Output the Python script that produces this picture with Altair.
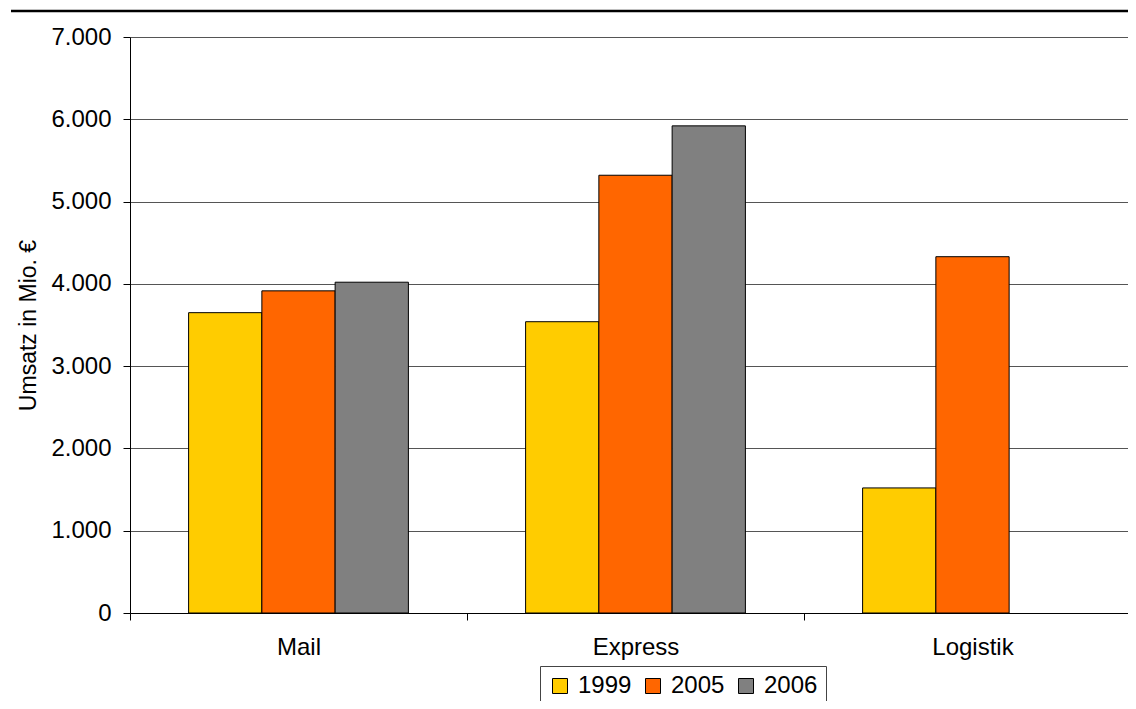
import altair as alt
import pandas as pd

categories = ["Mail", "Express", "Logistik"]
years = ["1999", "2005", "2006"]
values_1999 = [3650, 3540, 1520]
values_2005 = [3915, 5320, 4330]
values_2006 = [4020, 5920, None]
colors = ["#FFCC00", "#FF6600", "#808080"]

rows = []
for i, c in enumerate(categories):
    for y, vals in zip(years, [values_1999, values_2005, values_2006]):
        if vals[i] is not None:
            rows.append({"Bereich": c, "Jahr": y, "Umsatz": vals[i]})
df = pd.DataFrame(rows)

W = 1011
H = 576
FONT = "Liberation Sans"

bars = alt.Chart(df).mark_bar(stroke="black", strokeWidth=1).encode(
    x=alt.X("Bereich:N", sort=categories,
            scale=alt.Scale(paddingInner=0, paddingOuter=0),
            axis=alt.Axis(title=None, labelAngle=0, tickBand="extent",
                          tickSize=7, tickColor="black", domainColor="black",
                          labelFontSize=24, labelFont=FONT, labelColor="black",
                          labelPadding=15, grid=False)),
    xOffset=alt.XOffset("Jahr:N", sort=years,
                        scale=alt.Scale(domain=years, paddingInner=0, paddingOuter=0.8)),
    y=alt.Y("Umsatz:Q", scale=alt.Scale(domain=[0, 7000], nice=False),
            axis=alt.Axis(title="Umsatz in Mio. €", values=list(range(0, 7001, 1000)),
                          labelExpr="replace(format(datum.value, ','), ',', '.')",
                          tickSize=7, tickColor="black", domainColor="black",
                          labelFontSize=24, labelFont=FONT, labelColor="black",
                          labelPadding=12, titleFontSize=23, titleFont=FONT,
                          titleFontWeight="normal", titleColor="black",
                          titlePadding=10, grid=True, gridColor="#555555",
                          gridWidth=1)),
    color=alt.Color("Jahr:N", sort=years,
                    scale=alt.Scale(domain=years, range=colors),
                    legend=alt.Legend(title=None, orient="none", legendX=410,
                                      legendY=629, direction="horizontal",
                                      columns=3, symbolType="square",
                                      symbolSize=225, symbolStrokeColor="black",
                                      symbolStrokeWidth=1, labelFontSize=24,
                                      labelFont=FONT, labelColor="black",
                                      labelOffset=6, columnPadding=9,
                                      padding=8, strokeColor="#444444",
                                      fillColor="white")),
)

topline = alt.Chart(pd.DataFrame({"a": [0]})).mark_rule(
    color="black", strokeWidth=2.5
).encode(x=alt.value(-119), x2=alt.value(W + 20), y=alt.value(-26))

chart = alt.layer(bars, topline).properties(
    width=W, height=H,
    autosize=alt.AutoSizeParams(type="none"),
    padding={"left": 122, "top": 29, "right": -13, "bottom": 88},
).configure_view(stroke=None).configure_axis(domainWidth=1, tickWidth=1)

chart.save("out.html", embed_options={"renderer": "svg", "actions": False})
